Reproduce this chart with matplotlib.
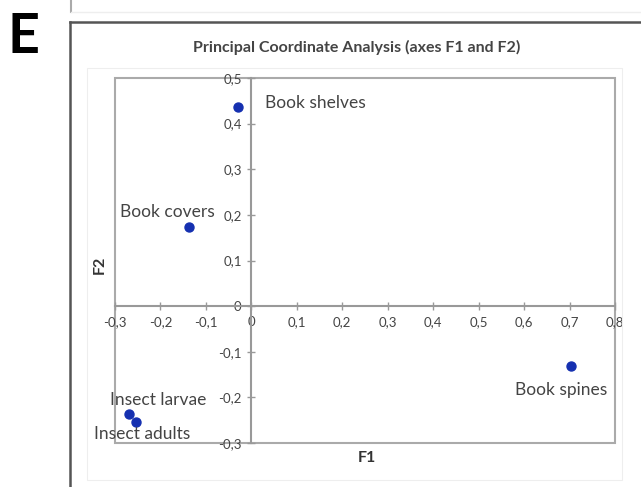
import matplotlib.pyplot as plt
from matplotlib.lines import Line2D
from matplotlib.patches import Rectangle

# PCoA coordinates of the sample groups
labels = ['Book shelves', 'Book covers', 'Book spines', 'Insect larvae', 'Insect adults']
f1 = [-0.030, -0.137, 0.703, -0.269, -0.254]
f2 = [0.436, 0.173, -0.132, -0.237, -0.254]
# label offsets (pixels) and alignment
offsets = [(27, 4), (-22, 15), (-10, -24), (29, 14), (6, -12)]
aligns = ['left', 'center', 'center', 'center', 'center']

x_ticks = [-0.3, -0.2, -0.1, 0, 0.1, 0.2, 0.3, 0.4, 0.5, 0.6, 0.7, 0.8]
y_ticks = [-0.3, -0.2, -0.1, 0, 0.1, 0.2, 0.3, 0.4, 0.5]

W, H = 641, 487
fig = plt.figure(figsize=(W / 100, H / 100), dpi=100)
plt.rcParams['font.family'] = ['Lato', 'DejaVu Sans']

def fx(px):
    return px / W

def fy(py):
    return 1 - py / H

# panel frame
fig.add_artist(Line2D([fx(70), fx(641)], [fy(22), fy(22)], color='#555555', lw=1.8))
fig.add_artist(Line2D([fx(70), fx(70)], [fy(22), fy(487)], color='#555555', lw=1.8))
fig.add_artist(Line2D([fx(71), fx(71)], [fy(0), fy(12)], color='#aaaaaa', lw=1.5))
fig.add_artist(Line2D([fx(71), fx(641)], [fy(12), fy(12)], color='#eeeeee', lw=1))
fig.add_artist(Rectangle((fx(87), fy(480)), fx(622) - fx(87), fy(68) - fy(480),
                         fill=False, ec='#eeeeee', lw=0.8))
fig.text(fx(24), fy(53), 'E', fontsize=40, fontweight='bold', ha='center', va='baseline')

ax = fig.add_axes([fx(115), fy(443), fx(615) - fx(115), fy(78) - fy(443)])
ax.set_xlim(-0.3, 0.8)
ax.set_ylim(-0.3, 0.5)

gray = '#999999'
for s in ['top', 'right']:
    ax.spines[s].set_visible(False)
ax.spines['left'].set_position(('data', 0))
ax.spines['bottom'].set_position(('data', 0))
ax.spines['left'].set_color(gray)
ax.spines['bottom'].set_color(gray)
ax.spines['left'].set_linewidth(1.5)
ax.spines['bottom'].set_linewidth(1.5)
ax.add_patch(Rectangle((0, 0), 1, 1, transform=ax.transAxes, fill=False,
                       ec='#aaaaaa', lw=1.5, clip_on=False))

ax.set_xticks(x_ticks)
ax.set_xticklabels([('%g' % t).replace('.', ',') for t in x_ticks])
ax.set_yticks(y_ticks)
ax.set_yticklabels([('%g' % t).replace('.', ',') for t in y_ticks])
ax.tick_params(direction='inout', length=6, width=1, color=gray,
               labelsize=9.5, labelcolor='#444444', pad=4)

ax.scatter(f1, f2, s=42, color='#1530b0', zorder=3)
for name, x, y, off, ha in zip(labels, f1, f2, offsets, aligns):
    ax.annotate(name, (x, y), xytext=off, textcoords='offset pixels',
                ha=ha, va='center', fontsize=12.5, color='#444444')

fig.text(fx(357), fy(47), 'Principal Coordinate Analysis (axes F1 and F2)',
         fontsize=11.5, fontweight='bold', ha='center', va='center', color='#444444')
fig.text(fx(100), fy(265), 'F2', fontsize=11.5, fontweight='bold', rotation=90,
         ha='center', va='center', color='#333333')
fig.text(fx(367), fy(458), 'F1', fontsize=11.5, fontweight='bold',
         ha='center', va='center', color='#333333')

fig.savefig('out.png', dpi=100)
